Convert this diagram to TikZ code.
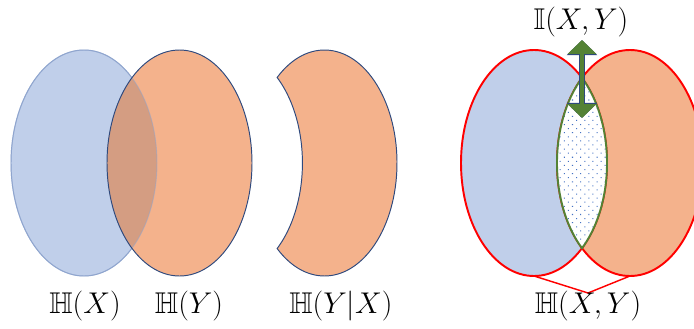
\documentclass[tikz,border=0pt]{standalone}
\usepackage{amssymb}
\usetikzlibrary{arrows.meta,patterns.meta,calc}
\definecolor{SoftBlue}{HTML}{C0CFEA}
\definecolor{SoftOrange}{HTML}{F4B28C}
\definecolor{Overlap}{HTML}{D49D82}
\definecolor{Navy}{HTML}{2F4A7E}
\definecolor{PaleNavy}{HTML}{8FA5CE}
\definecolor{Leaf}{HTML}{548235}
\definecolor{DotBlue}{HTML}{4472C4}
\definecolor{Red}{HTML}{FF0000}
\tikzset{
  setblue/.style={fill=SoftBlue},
  setorange/.style={fill=SoftOrange},
  rimthin/.style={draw=Navy, line width=0.8pt},
  rimpale/.style={draw=PaleNavy, line width=0.8pt},
  rimred/.style={draw=Red, line width=1.6pt},
  lensline/.style={draw=Leaf, line width=1.6pt},
  arr/.style={{Triangle[width=23pt,length=11.5pt]}-{Triangle[width=23pt,length=11.5pt]}, line width=3.3pt, draw=Leaf, fill=Leaf},
  arrrim/.style={{Triangle[width=24.6pt,length=12.6pt]}-{Triangle[width=24.6pt,length=12.6pt]}, line width=4.4pt, draw=Navy, fill=Navy},
  lbl/.style={font=\Huge, inner sep=0pt, anchor=base}
}

\begin{document}
\begin{tikzpicture}[x=0.83pt,y=-0.83pt]
\useasboundingbox (0,0) rectangle (694,329);

% left pair: H(X) and H(Y)
\coordinate (cx) at (84,163);
\coordinate (cy) at (179.5,163);
\fill[setblue] (cx) ellipse [x radius=73, y radius=113];
\draw[rimpale] (cx) ellipse [x radius=73, y radius=113];
\fill[setorange] (cy) ellipse [x radius=72.5, y radius=113];
\begin{scope}
  \clip (cx) ellipse [x radius=73, y radius=113];
  \fill[Overlap] (cy) ellipse [x radius=72.5, y radius=113];
\end{scope}
\draw[rimpale, draw opacity=.5] (cx) ellipse [x radius=73, y radius=113];
\draw[rimthin] (cy) ellipse [x radius=72.5, y radius=113];

% crescent H(Y|X)
\coordinate (cc) at (324.5,163);
\coordinate (cb) at (229,163);
\filldraw[setorange, rimthin]
  ($(cc)+(-130.8:72.5 and 113)$) arc [start angle=-130.8, end angle=130.8, x radius=72.5, y radius=113]
  arc [start angle=49.2, end angle=-49.2, x radius=73, y radius=113] -- cycle;

% right pair: H(X,Y) and I(X,Y)
\coordinate (rx) at (534,163);
\coordinate (ry) at (630,163);
\fill[setblue] (rx) ellipse [x radius=73, y radius=113];
\fill[setorange] (ry) ellipse [x radius=73, y radius=113];
\draw[rimred] (rx) ellipse [x radius=73, y radius=113];
\draw[rimred] (ry) ellipse [x radius=73, y radius=113];
\path[fill=white, postaction={pattern={Dots[distance=4.8pt, angle=45, radius=0.6pt]}, pattern color=DotBlue}]
  (582,77.9) arc [start angle=-48.9, end angle=48.9, x radius=73, y radius=113]
  arc [start angle=131.1, end angle=228.9, x radius=73, y radius=113] -- cycle;
\draw[lensline]
  (582,77.9) arc [start angle=-48.9, end angle=48.9, x radius=73, y radius=113]
  arc [start angle=131.1, end angle=228.9, x radius=73, y radius=113] -- cycle;

% brace under the union
\coordinate (xbot) at (534,276);
\coordinate (ybot) at (630,276);
\coordinate (apex) at (588,293);
\draw[Red, line width=1.2pt] (xbot) -- (apex) -- (ybot);

% double arrow to the lens
\coordinate (itop) at (582,40);
\coordinate (ibot) at (582,118);
\draw[arrrim] (ibot) -- (itop);
\draw[arr] (ibot) -- (itop);

% labels
\node[lbl] (hx) at (85,313) {$\mathbb{H}(X)$};
\node[lbl] (hy) at (189,313) {$\mathbb{H}(Y)$};
\node[lbl] (hyx) at (341,313) {$\mathbb{H}(Y|X)$};
\node[lbl] (hxy) at (588,313) {$\mathbb{H}(X,Y)$};
\node[lbl] (ixy) at (581,30) {$\mathbb{I}(X,Y)$};
\end{tikzpicture}
\end{document}
